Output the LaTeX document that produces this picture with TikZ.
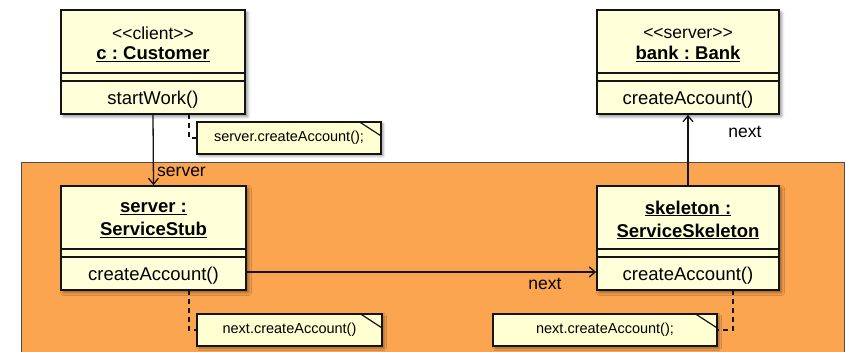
\documentclass[tikz,border=0pt]{standalone}
\usepackage{fontspec}
\setmainfont{Liberation Sans}[Ligatures=TeXOff]
\frenchspacing
\usetikzlibrary{shadows.blur,arrows.meta}
\definecolor{objfill}{RGB}{255,255,218}
\definecolor{notefill}{RGB}{255,255,210}
\definecolor{pkgfill}{RGB}{252,165,80}
\definecolor{edge}{RGB}{20,20,20}
\tikzset{
  objbox/.style={draw=edge, line width=1.6pt, fill=objfill, inner sep=0pt,
    blur shadow={shadow xshift=2.5pt, shadow yshift=-2.5pt, shadow blur radius=3pt, shadow opacity=45}},
  divider/.style={draw=edge, line width=1.4pt},
  stereo/.style={font=\fontsize{17.5}{20}\selectfont, inner sep=0pt},
  objname/.style={font=\fontsize{18.5}{23}\selectfont\bfseries, inner sep=0pt, align=center},
  optext/.style={font=\fontsize{18.5}{22}\selectfont, inner sep=0pt},
  notebox/.style={draw=edge, line width=1.3pt, fill=notefill, inner sep=0pt,
    font=\fontsize{14.5}{17}\selectfont,
    blur shadow={shadow xshift=2pt, shadow yshift=-2pt, shadow blur radius=2.5pt, shadow opacity=40}},
  link/.style={draw=edge, line width=1.3pt, -{Straight Barb[length=6pt,width=10pt,line width=1.3pt]}},
  anchorline/.style={draw=edge, line width=1.3pt, dash pattern=on 5pt off 4pt},
  role/.style={font=\fontsize{17.5}{20}\selectfont, inner sep=0pt},
}
\newcommand{\ul}[1]{\underline{#1}}
\begin{document}
\begin{tikzpicture}[x=1pt,y=-1pt]
\useasboundingbox (0,0) rectangle (846,352);

% package region
\fill[pkgfill] (21,162) rectangle (844,352);
\draw[black!70, line width=0.8pt] (21,352) -- (21,162) -- (844,162) -- (844,352);

% object boxes
\node[objbox, minimum width=184pt, minimum height=104pt] (cust) at (153,62) {};
\node[objbox, minimum width=182pt, minimum height=104pt] (bank) at (688,62) {};
\node[objbox, minimum width=185pt, minimum height=104pt] (stub) at (153.5,238) {};
\node[objbox, minimum width=182pt, minimum height=104pt] (skel) at (688,238) {};

% compartments
\foreach \b in {cust,bank,stub,skel}{
  \draw[divider] ([yshift=-64pt]\b.north west) -- ([yshift=-64pt]\b.north east);
  \draw[divider] ([yshift=-72pt]\b.north west) -- ([yshift=-72pt]\b.north east);
}

% names and operations
\node[stereo] (custst) at (153,33) {<<client>>};
\node[objname] (custnm) at (153,54) {\ul{c : Customer}};
\node[optext] (custop) at (153,100) {startWork()};

\node[stereo] (bankst) at (688,33) {<<server>>};
\node[objname] (banknm) at (688,54) {\ul{bank : Bank}};
\node[optext] (bankop) at (688,100) {createAccount()};

\node[objname] (stubnm) at (153.5,220) {\ul{server :}\\\ul{ServiceStub}};
\node[optext] (stubop) at (153.5,276) {createAccount()};

\node[objname] (skelnm) at (688,220) {\ul{skeleton :}\\\ul{ServiceSkeleton}};
\node[optext] (skelop) at (688,276) {createAccount()};

% links
\draw[link] (cust.south) -- (stub.north);
\node[role, anchor=west] (lserver) at (157,172) {server};

\draw[link] (stub.east |- 0,272) -- (skel.west |- 0,272);
\node[role] (lnext1) at (545,284) {next};

\draw[link] (skel.north) -- (bank.south);
\node[role] (lnext2) at (745,132) {next};

% notes
\node[notebox, minimum width=184pt, minimum height=32pt] (note1) at (289,138) {server.createAccount();};
\node[notebox, minimum width=185pt, minimum height=32pt] (note2) at (289.5,330) {next.createAccount()};
\node[notebox, minimum width=224pt, minimum height=32pt] (note3) at (605,330) {next.createAccount();};
\foreach \n in {note1,note2,note3}{
  \draw[edge, line width=1.2pt] ([xshift=-23pt]\n.north east) -- ([yshift=-15pt]\n.north east);
}

% note anchors
\coordinate (a1) at (189,114);
\coordinate (a2) at (189,290);
\coordinate (a3) at (733,290);
\draw[anchorline] (a1) |- (note1.west);
\draw[anchorline] (a2) |- (note2.west);
\draw[anchorline] (a3) |- (note3.east);
\end{tikzpicture}
\end{document}
